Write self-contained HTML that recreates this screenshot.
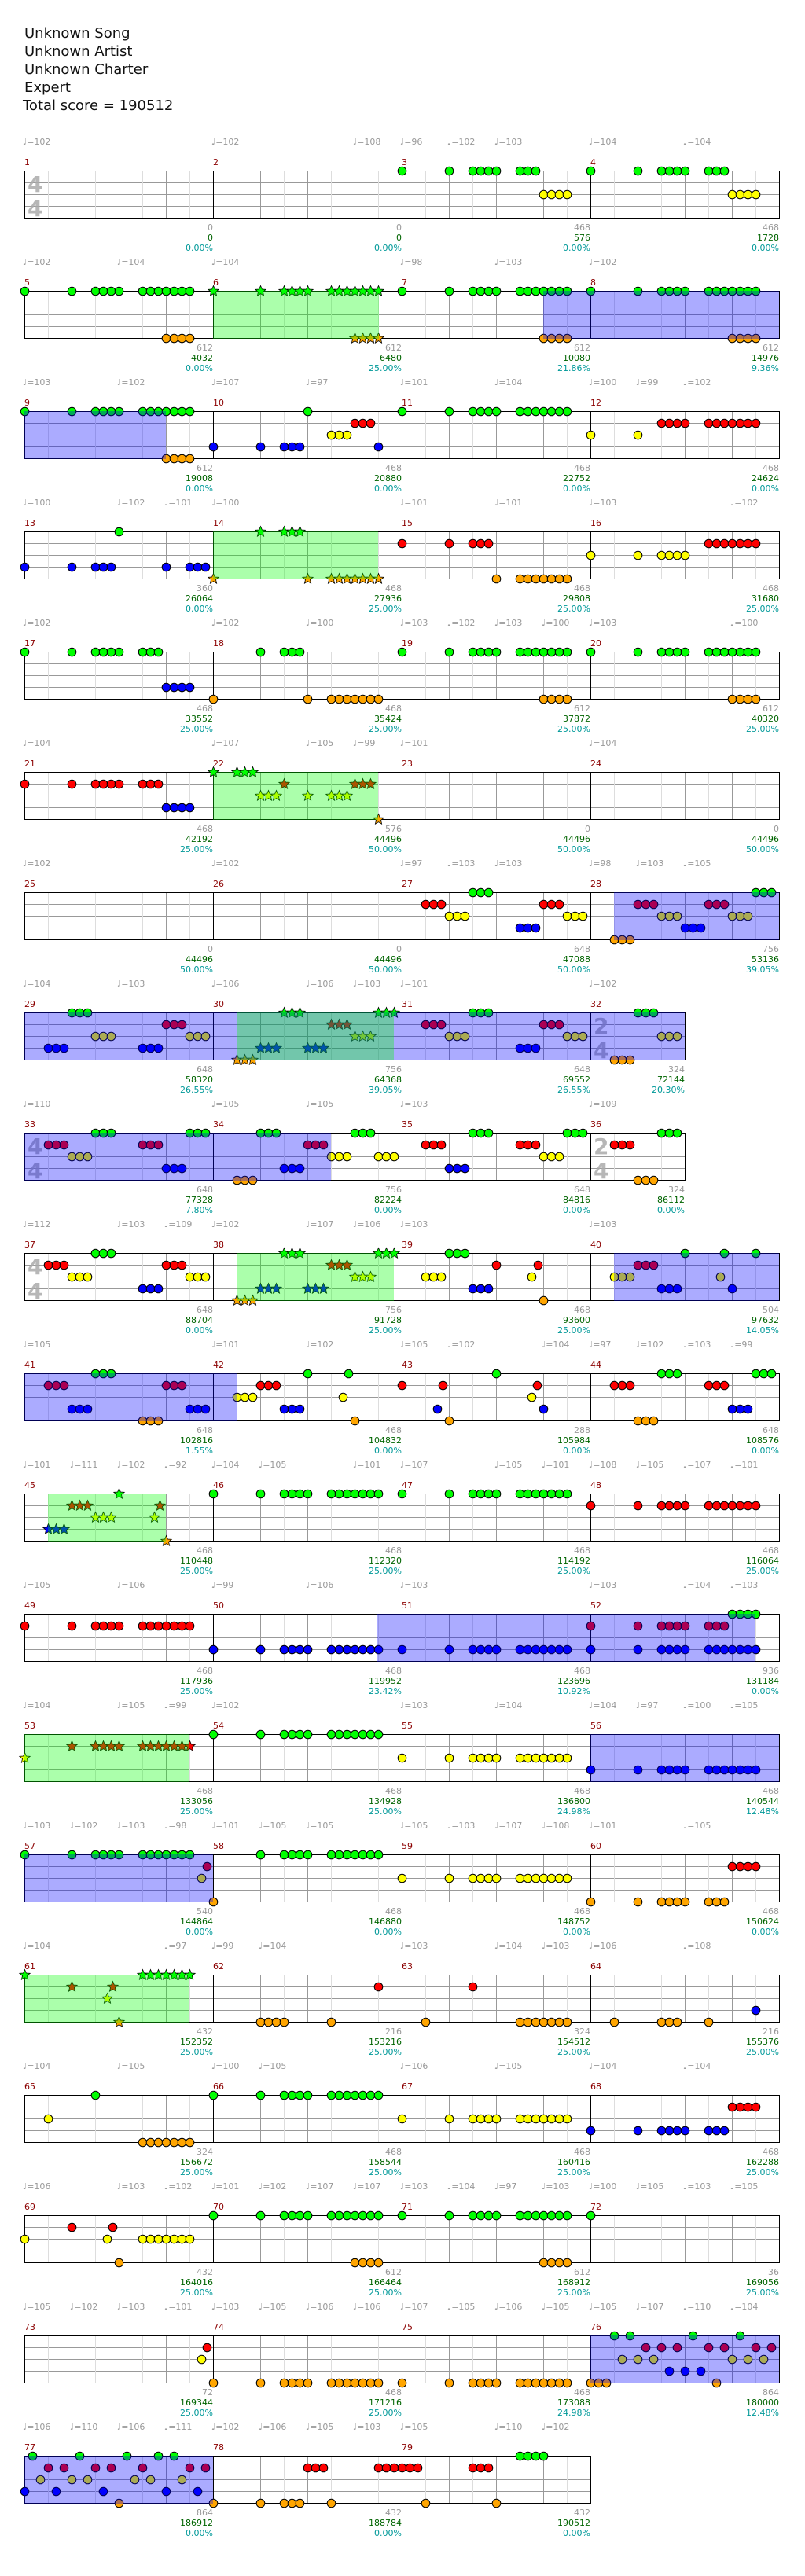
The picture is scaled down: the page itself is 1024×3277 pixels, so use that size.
<!DOCTYPE html>
<html><head><meta charset="utf-8">
<style>
html,body{margin:0;padding:0;background:#fff;}
svg{display:block;}
svg text{font-family:"DejaVu Sans","Liberation Sans",sans-serif;}
</style></head>
<body>
<svg id="s" xmlns="http://www.w3.org/2000/svg" width="1024" height="3277" viewBox="0 0 1024 3277">
<g font-size="18" fill="#111">
<text x="31" y="48">Unknown Song</text>
<text x="31" y="71">Unknown Artist</text>
<text x="31" y="94">Unknown Charter</text>
<text x="31" y="117">Expert</text>
<text x="29" y="140">Total score = 190512</text>
</g>
</svg>
<script>
var P="0,60,90-120,150-210";
var F="30-50";
var rows=[
{t:"0:102 240:102 420:108 480:96 540:102 600:103 720:104 840:104",ov:[],m:[
 [1,240,"4/4","",["0","0","0.00%"]],[2,240,"","",["0","0","0.00%"]],
 [3,240,"","g0,60,90,100,110,120,150,160,170 y180-210",["468","576","0.00%"]],
 [4,240,"","g0,60,90,100,110,120,150,160,170 y180-210",["468","1728","0.00%"]]]},
{t:"0:102 120:104 240:104 480:98 600:103 720:102",ov:[[240,451,'g'],[660,960,'b']],m:[
 [5,240,"","g"+P+" o180-210",["612","4032","0.00%"]],
 [6,240,"","*g"+P+" *o180-210",["612","6480","25.00%"]],
 [7,240,"","g"+P+" o180-210",["612","10080","21.86%"]],
 [8,240,"","g"+P+" o180-210",["612","14976","9.36%"]]]},
{t:"0:103 120:102 240:107 360:97 480:101 600:104 720:100 780:99 840:102",ov:[[0,180,'b']],m:[
 [9,240,"","g"+P+" o180-210",["612","19008","0.00%"]],
 [10,240,"","b0,60,90,100,110,210 g120 y150,160,170 r180,190,200",["468","20880","0.00%"]],
 [11,240,"","g"+P,["468","22752","0.00%"]],
 [12,240,"","y0,60 r90-120,150-210",["468","24624","0.00%"]]]},
{t:"0:100 120:102 180:101 240:100 480:101 600:101 720:103 900:102",ov:[[240,450,'g']],m:[
 [13,240,"","b0,60,90,100,110,180,210,220,230 g120",["360","26064","0.00%"]],
 [14,240,"","*g60,90,100,110 *o0,120,150-210",["468","27936","25.00%"]],
 [15,240,"","r0,60,90,100,110 o120,150-210",["468","29808","25.00%"]],
 [16,240,"","y0,60,90-120 r150-210",["468","31680","25.00%"]]]},
{t:"0:102 240:102 360:100 480:103 540:102 600:103 660:100 720:103 900:100",ov:[],m:[
 [17,240,"","g0,60,90-120,150,160,170 b180-210",["468","33552","25.00%"]],
 [18,240,"","o0,120,150-210 g60,90,100,110",["468","35424","25.00%"]],
 [19,240,"","g"+P+" o180-210",["612","37872","25.00%"]],
 [20,240,"","g"+P+" o180-210",["612","40320","25.00%"]]]},
{t:"0:104 240:107 360:105 420:99 480:101 720:104",ov:[[240,450,'g']],m:[
 [21,240,"","r0,60,90-120,150,160,170 b180-210",["468","42192","25.00%"]],
 [22,240,"","*g0,30,40,50 *r90,180,190,200 *y60,70,80,120,150,160,170 *o210",["576","44496","50.00%"]],
 [23,240,"","",["0","44496","50.00%"]],
 [24,240,"","",["0","44496","50.00%"]]]},
{t:"0:102 240:102 480:97 540:103 600:103 720:98 780:103 840:105",ov:[[750,960,'b']],m:[
 [25,240,"","",["0","44496","50.00%"]],
 [26,240,"","",["0","44496","50.00%"]],
 [27,240,"","r30,40,50,180,190,200 y60,70,80,210,220,230 g90,100,110 b150,160,170",["648","47088","50.00%"]],
 [28,240,"","o30,40,50 r60,70,80,150,160,170 y90,100,110,180,190,200 b120,130,140 g210,220,230",["756","53136","39.05%"]]]},
{t:"0:104 120:103 240:106 360:106 420:103 480:101 720:102",ov:[[0,840,'b'],[270,470,'g']],m:[
 [29,240,"","b30,40,50,150,160,170 g60,70,80 y90,100,110,210,220,230 r180,190,200",["648","58320","26.55%"]],
 [30,240,"","*o30,40,50 *b60,70,80,120,130,140 *g90,100,110,210,220,230 *r150,160,170 *y180,190,200",["756","64368","39.05%"]],
 [31,240,"","r30,40,50,180,190,200 y60,70,80,210,220,230 g90,100,110 b150,160,170",["648","69552","26.55%"]],
 [32,120,"2/4","o30,40,50 g60,70,80 y90,100,110",["324","72144","20.30%"]]]},
{t:"0:110 240:105 360:105 480:103 720:109",ov:[[0,390,'b']],m:[
 [33,240,"4/4","r30,40,50,150,160,170 y60,70,80 g90,100,110,210,220,230 b180,190,200",["648","77328","7.80%"]],
 [34,240,"","o30,40,50 g60,70,80,180,190,200 b90,100,110 r120,130,140 y150,160,170,210,220,230",["756","82224","0.00%"]],
 [35,240,"","r30,40,50,150,160,170 b60,70,80 g90,100,110,210,220,230 y180,190,200",["648","84816","0.00%"]],
 [36,120,"2/4","r30,40,50 o60,70,80 g90,100,110",["324","86112","0.00%"]]]},
{t:"0:112 120:103 180:109 240:102 360:107 420:106 480:103 720:103",ov:[[270,470,'g'],[750,960,'b']],m:[
 [37,240,"4/4","r30,40,50,180,190,200 y60,70,80,210,220,230 g90,100,110 b150,160,170",["648","88704","0.00%"]],
 [38,240,"","*o30,40,50 *b60,70,80,120,130,140 *g90,100,110,210,220,230 *r150,160,170 *y180,190,200",["756","91728","25.00%"]],
 [39,240,"","y30,40,50,165 g60,70,80 b90,100,110 r120,173 o180",["468","93600","25.00%"]],
 [40,240,"","y30,40,50,165 r60,70,80 b90,100,110,180 g120,170,210",["504","97632","14.05%"]]]},
{t:"0:105 240:101 360:102 480:105 540:102 660:104 720:97 780:102 840:103 900:99",ov:[[0,270,'b']],m:[
 [41,240,"","r30,40,50,180,190,200 b60,70,80,210,220,230 g90,100,110 o150,160,170",["648","102816","1.55%"]],
 [42,240,"","y30,40,50,165 r60,70,80 b90,100,110 g120,172 o180",["468","104832","0.00%"]],
 [43,240,"","r0,52,172 b45,180 o60 g120 y165",["288","105984","0.00%"]],
 [44,240,"","r30,40,50,150,160,170 o60,70,80 g90,100,110,210,220,230 b180,190,200",["648","108576","0.00%"]]]},
{t:"0:101 60:111 120:102 180:92 240:104 300:105 420:101 480:107 600:105 660:101 720:108 780:105 840:107 900:101",ov:[[30,180,'g']],m:[
 [45,240,"","*b30,40,50 *r60,70,80,172 *y90,100,110,165 *g120 *o180",["468","110448","25.00%"]],
 [46,240,"","g"+P,["468","112320","25.00%"]],
 [47,240,"","g"+P,["468","114192","25.00%"]],
 [48,240,"","r"+P,["468","116064","25.00%"]]]},
{t:"0:105 120:106 240:99 360:106 480:103 720:103 840:104 900:103",ov:[[449,929,'b']],m:[
 [49,240,"","r"+P,["468","117936","25.00%"]],
 [50,240,"","b"+P,["468","119952","23.42%"]],
 [51,240,"","b"+P,["468","123696","10.92%"]],
 [52,240,"","r0,60,90-120,150,160,170 b"+P+" g180-210",["936","131184","0.00%"]]]},
{t:"0:104 120:105 180:99 240:102 480:103 600:104 720:104 780:97 840:100 900:105",ov:[[0,210,'g'],[720,960,'b']],m:[
 [53,240,"","*y0 *r60,90-120,150-210",["468","133056","25.00%"]],
 [54,240,"","g"+P,["468","134928","25.00%"]],
 [55,240,"","y"+P,["468","136800","24.98%"]],
 [56,240,"","b"+P,["468","140544","12.48%"]]]},
{t:"0:103 60:102 120:103 180:98 240:101 300:105 360:105 480:105 540:103 600:107 660:108 720:101 840:105",ov:[[0,240,'b']],m:[
 [57,240,"","g"+P+" r232 y225",["540","144864","0.00%"]],
 [58,240,"","o0 g60,90-120,150-210",["468","146880","0.00%"]],
 [59,240,"","y"+P,["468","148752","0.00%"]],
 [60,240,"","o0,60,90-120,150,160,170 r180-210",["468","150624","0.00%"]]]},
{t:"0:104 180:97 240:99 300:104 480:103 600:104 660:103 720:106 840:108",ov:[[0,210,'g']],m:[
 [61,240,"","*g0,150-210 *r60,112 *y105 *o120",["432","152352","25.00%"]],
 [62,240,"","o60,70,80,90,150 r210",["216","153216","25.00%"]],
 [63,240,"","o30,150-210 r90",["324","154512","25.00%"]],
 [64,240,"","o30,90,100,110,150 b210",["216","155376","25.00%"]]]},
{t:"0:104 120:105 240:100 300:105 480:106 600:105 720:104 840:104",ov:[],m:[
 [65,240,"","y30 g90 o150-210",["324","156672","25.00%"]],
 [66,240,"","g"+P,["468","158544","25.00%"]],
 [67,240,"","y"+P,["468","160416","25.00%"]],
 [68,240,"","b0,60,90-120,150,160,170 r180-210",["468","162288","25.00%"]]]},
{t:"0:106 120:103 180:102 240:101 300:102 360:107 420:107 480:103 540:104 600:97 660:103 720:100 780:105 840:103 900:105",ov:[],m:[
 [69,240,"","y0,105,150-210 r60,112 o120",["432","164016","25.00%"]],
 [70,240,"","g"+P+" o180-210",["612","166464","25.00%"]],
 [71,240,"","g"+P+" o180-210",["612","168912","25.00%"]],
 [72,240,"","g0",["36","169056","25.00%"]]]},
{t:"0:105 60:102 120:103 180:101 240:103 300:105 360:106 420:106 480:107 540:105 600:106 660:105 720:105 780:107 840:110 900:104",ov:[[720,960,'b']],m:[
 [73,240,"","r232 y225",["72","169344","25.00%"]],
 [74,240,"","o"+P,["468","171216","25.00%"]],
 [75,240,"","o"+P,["468","173088","24.98%"]],
 [76,240,"","g30,50,130,190 r70,90,110,150,170,210,230 y40,60,80,180,200,220 b100,120,140 o0,10,20,160",["864","180000","12.48%"]]]},
{t:"0:106 60:110 120:106 180:111 240:102 300:106 360:105 420:103 480:105 600:110 660:102",ov:[[0,240,'b']],m:[
 [77,240,"","g10,70,130,170,190 r30,50,90,110,150,210,230 y20,60,80,140,160,200 b0,40,100,180,220 o120",["864","186912","0.00%"]],
 [78,240,"","o0,60,90,100,110,150 r120,130,140,210,220,230",["432","188784","0.00%"]],
 [79,240,"","r0,10,20,90,100,110 o30,120 g150,160,170,180",["432","190512","0.00%"]]]}
];
var COL=['#00ff00','#ff0000','#ffff00','#0000ff','#ffa500'];
var LN={g:0,r:1,y:2,b:3,o:4};
var out=[];
function parse(s){var res=[];if(!s)return res;s.split(' ').forEach(function(tk){if(!tk)return;var st=false;if(tk[0]=='*'){st=true;tk=tk.slice(1);}var l=LN[tk[0]];tk.slice(1).split(',').forEach(function(it){if(it.indexOf('-')>0){var a=it.split('-');for(var v=+a[0];v<=+a[1];v+=10)res.push([v,l,st]);}else res.push([+it,l,st]);});});return res;}
function star(cx,cy,r){var p=[];for(var i=0;i<10;i++){var rr=i%2?r*0.45:r;var a=-Math.PI/2+i*Math.PI/5;p.push((cx+rr*Math.cos(a)).toFixed(1)+','+(cy+rr*Math.sin(a)).toFixed(1));}return p.join(' ');}
rows.forEach(function(row,ri){
 var T=217+153*ri, X=31;
 var tot=0;row.m.forEach(function(m){tot+=m[1];});
 var g=[],nt=[],ov=[],tx=[];
 // tempos
 row.t.split(' ').forEach(function(tt){var a=tt.split(':');tx.push('<text x="'+(X+(+a[0])-2)+'" y="'+(T-33)+'" font-size="11" fill="#999">\u2669=<tspan>'+a[1]+'</tspan></text>');});
 // lane lines
 for(var k=1;k<4;k++)g.push('<line x1="'+X+'" x2="'+(X+tot)+'" y1="'+(T+15*k+0.5)+'" y2="'+(T+15*k+0.5)+'" stroke="#999"/>');
 var sx=X;
 row.m.forEach(function(m){
  var w=m[1];
  for(var i=1;i<w/30;i++){var x=sx+30*i+0.5;g.push('<line x1="'+x+'" x2="'+x+'" y1="'+T+'" y2="'+(T+60)+'" stroke="'+(i%2?'#ddd':'#999')+'"/>');}
  g.push('<line x1="'+(sx+0.5)+'" x2="'+(sx+0.5)+'" y1="'+T+'" y2="'+(T+60)+'" stroke="#000"/>');
  tx.push('<text x="'+sx+'" y="'+(T-7)+'" font-size="11" fill="#8b0000">'+m[0]+'</text>');
  if(m[2]){var d=m[2].split('/');tx.push('<text x="'+(sx+4)+'" y="'+(T+27)+'" font-size="28" font-weight="bold" fill="#aaa" fill-opacity="0.85">'+d[0]+'</text><text x="'+(sx+4)+'" y="'+(T+58)+'" font-size="28" font-weight="bold" fill="#aaa" fill-opacity="0.85">'+d[1]+'</text>');}
  var e=sx+w;
  tx.push('<text x="'+e+'" y="'+(T+76)+'" font-size="11" fill="#999" text-anchor="end">'+m[4][0]+'</text>');
  tx.push('<text x="'+e+'" y="'+(T+89)+'" font-size="11" fill="#006400" text-anchor="end">'+m[4][1]+'</text>');
  tx.push('<text x="'+e+'" y="'+(T+102)+'" font-size="11" fill="#009999" text-anchor="end">'+m[4][2]+'</text>');
  parse(m[3]).forEach(function(n){var cx=sx+n[0]+0.5,cy=T+15*n[1]+0.5;
   if(n[2])nt.push('<polygon points="'+star(cx,cy,7)+'" fill="'+COL[n[1]]+'" stroke="#000" stroke-width="0.8"/>');
   else nt.push('<circle cx="'+cx+'" cy="'+cy+'" r="5.3" fill="'+COL[n[1]]+'" stroke="#000" stroke-width="1"/>');});
  sx+=w;
 });
 g.push('<rect x="'+(X+0.5)+'" y="'+(T+0.5)+'" width="'+tot+'" height="60" fill="none" stroke="#000"/>');
 row.ov.forEach(function(o){ov.push('<rect x="'+(X+o[0])+'" y="'+T+'" width="'+(o[1]-o[0])+'" height="61" fill="'+(o[2]=='b'?'#0000ff':'#00ff00')+'" fill-opacity="0.33"/>');});
 out.push(g.join('')+tx.join('')+nt.join('')+ov.join(''));
});
document.getElementById('s').insertAdjacentHTML('beforeend',out.join(''));
</script>
</body></html>
